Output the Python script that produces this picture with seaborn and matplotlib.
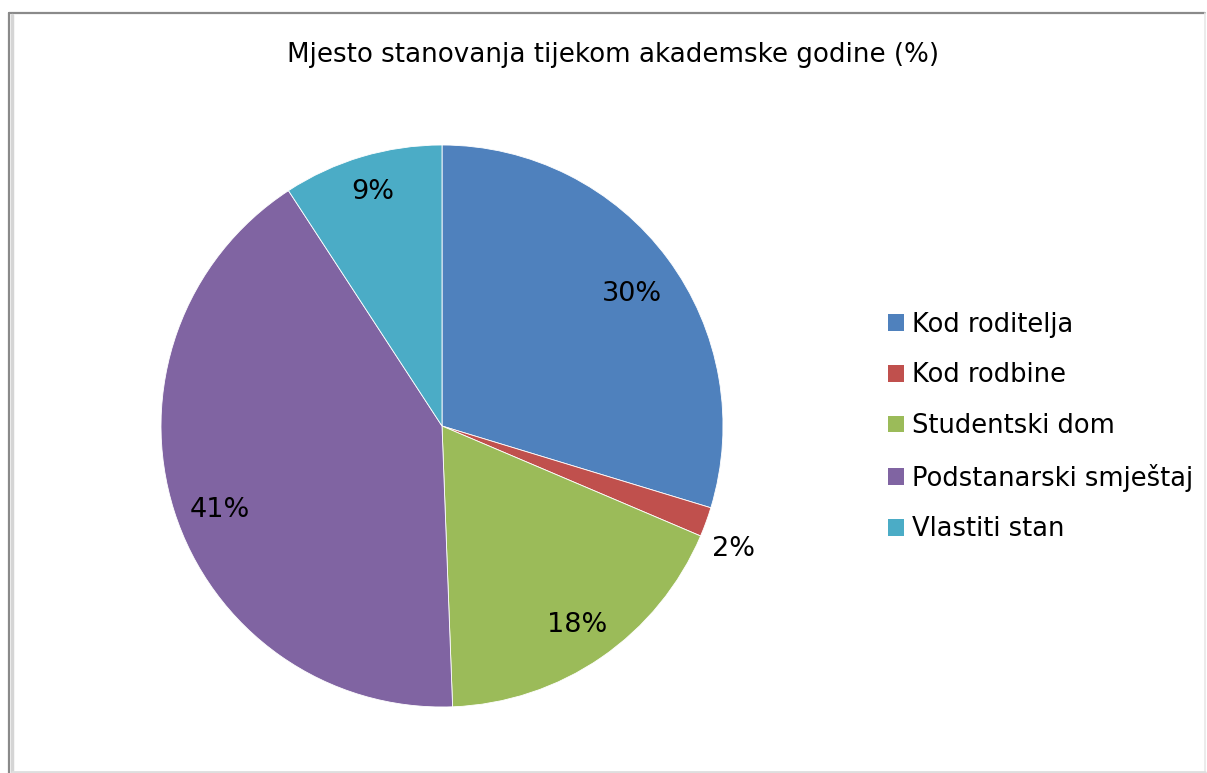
import matplotlib
matplotlib.use("Agg")
import matplotlib.pyplot as plt
import seaborn as sns
import numpy as np
from matplotlib.patches import Patch
from matplotlib.lines import Line2D

categories = ["Kod roditelja", "Kod rodbine", "Studentski dom", "Podstanarski smještaj", "Vlastiti stan"]
values = [29.7, 1.7, 18.0, 41.4, 9.2]
labels = ["30%", "2%", "18%", "41%", "9%"]
colors = ["#4F81BD", "#C0504D", "#9BBB59", "#8064A2", "#4BACC6"]
title = "Mjesto stanovanja tijekom akademske godine (%)"

sns.set_theme(style="white")
plt.rcParams['font.family'] = ['DejaVu Sans']

W, H = 1207, 773
fig = plt.figure(figsize=(W / 100, H / 100), dpi=100)
fig.patch.set_facecolor("white")

cx, cy, r = 442, 426, 281
ax = fig.add_axes([(cx - r) / W, (H - cy - r) / H, 2 * r / W, 2 * r / H])
wedges, _ = ax.pie(values, colors=sns.color_palette(colors), startangle=90, counterclock=False,
                   wedgeprops=dict(edgecolor="white", linewidth=0.6), radius=1.0)
ax.set_xlim(-1, 1)
ax.set_ylim(-1, 1)
ax.set_aspect("equal")
ax.axis("off")

dists = [0.822, 1.125, 0.856, 0.845, 0.87]
ang_off = [-1.8, -3.0, -0.4, 3.0, 0.0]
for w, lab, d, o in zip(wedges, labels, dists, ang_off):
    ang = np.deg2rad((w.theta1 + w.theta2) / 2 + o)
    ax.text(d * np.cos(ang), d * np.sin(ang), lab, ha="center", va="center", fontsize=19.5, color="black")

fig.text(613 / W, 1 - 55 / H, title, ha="center", va="center", fontsize=18.8, color="black")

handles = [Patch(facecolor=c, edgecolor="none") for c in colors]
leg = fig.legend(handles, categories, loc="center left", bbox_to_anchor=(888 / W, 1 - 427 / H),
                 frameon=False, fontsize=18.5, handlelength=0.62, handleheight=0.62,
                 handletextpad=0.3, labelspacing=0.96, borderaxespad=0, borderpad=0)
for t in leg.get_texts():
    t.set_color("black")

# border
fig.add_artist(Line2D([9 / W, 1205 / W], [1 - 13 / H, 1 - 13 / H], color="#8a8a8a", lw=1.6, transform=fig.transFigure))
fig.add_artist(Line2D([9 / W, 9 / W], [1 - 13 / H, 0], color="#8a8a8a", lw=1.6, transform=fig.transFigure))
fig.add_artist(Line2D([12 / W, 12 / W], [1 - 15 / H, 0], color="#d5d5d5", lw=2.5, transform=fig.transFigure))
fig.add_artist(Line2D([1205 / W, 1205 / W], [1 - 13 / H, 0], color="#e8e8e8", lw=1.2, transform=fig.transFigure))
fig.add_artist(Line2D([12 / W, 1205 / W], [1 / H, 1 / H], color="#dedede", lw=2, transform=fig.transFigure))

fig.savefig("out.png", dpi=100, facecolor="white")
